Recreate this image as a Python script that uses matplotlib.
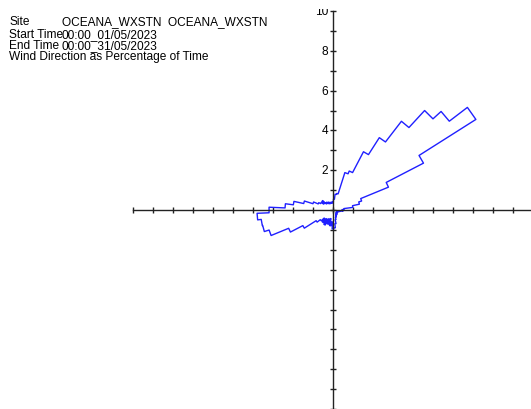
import numpy as np
import matplotlib
matplotlib.use("Agg")
import matplotlib.pyplot as plt
from matplotlib.transforms import Bbox, TransformedBbox

plt.rcParams['font.family'] = ['Liberation Sans', 'DejaVu Sans']

# Wind direction sectors (degrees from north, 5 degree bins) and % of time
directions = np.arange(0, 360, 5)
percent = [
    0.40, 0.55, 0.80, 0.85, 1.97, 2.12, 3.30, 4.31, 5.62, 6.78, 7.33, 8.47,
    5.10, 3.00, 1.50, 1.35, 1.00, 0.55, 0.45, 0.50, 0.35, 0.30, 0.25, 0.25,
    0.20, 0.25, 0.20, 0.25, 0.30, 0.25, 0.30, 0.35, 0.40, 0.50, 0.70, 0.90,
    0.95, 0.60, 0.80, 0.45, 0.75, 0.50, 0.85, 0.55, 0.80, 0.60, 0.80, 1.00,
    1.70, 2.40, 3.35, 3.60, 3.62, 3.80, 3.20, 2.40, 2.00, 1.50, 1.05, 0.80,
    0.70, 0.55, 0.70, 0.45, 0.50, 0.40, 0.45, 0.35, 0.40, 0.35, 0.40, 0.35,
]
sector_width = 5
y_labels = [2, 4, 6, 8, 10]

header = [
    ("Site", "OCEANA_WXSTN  OCEANA_WXSTN"),
    ("Start Time", "00:00_01/05/2023"),
    ("End Time", "00:00_31/05/2023"),
]
title = "Wind Direction as Percentage of Time"

W, H = 531, 410
fig = plt.figure(figsize=(W / 100, H / 100), dpi=100)
ax = fig.add_axes([133 / W, 0, 400 / W, 398 / H])

# each sector drawn as a chord between its two edges
ang, rad = [], []
for d, p in zip(directions, percent):
    ang += [d - sector_width / 2, d + sector_width / 2]
    rad += [p, p]
ang.append(ang[0])
rad.append(rad[0])
ang = np.radians(ang)
rad = np.array(rad)
ax.plot(rad * np.sin(ang), rad * np.cos(ang), color="#2020ff", lw=1.0)

ax.set_xlim(-10, 10)
ax.set_ylim(-10, 10)
for s in ["top", "right"]:
    ax.spines[s].set_visible(False)
for s in ["left", "bottom"]:
    ax.spines[s].set_position("zero")
    ax.spines[s].set_color("#222222")
    ax.spines[s].set_linewidth(1.0)
ax.set_xticks(range(-10, 11))
ax.set_yticks(range(-10, 11))
ax.set_xticklabels([])
ax.set_yticklabels([])
ax.tick_params(direction="inout", length=5, width=1, color="#222222")

# top label is cut off in the original
clip = TransformedBbox(Bbox([[0, 0], [1, (H - 10) / H]]), fig.transFigure)
for v in y_labels:
    t = ax.text(-0.25, v, str(v), ha="right", va="center", fontsize=8.6)
    t.set_clip_on(True)
    t.set_clip_box(clip)

def fy(py):
    return 1 - py / H

rows = [25, 38, 49]
for i, (k, v) in enumerate(header):
    fig.text(9 / W, fy(rows[i]), k, fontsize=8.6, va="baseline")
    fig.text(62 / W, fy(rows[i]), v, fontsize=8.6, va="baseline")
fig.text(9 / W, fy(60), title, fontsize=8.6, va="baseline")

fig.savefig("out.png", dpi=100)
